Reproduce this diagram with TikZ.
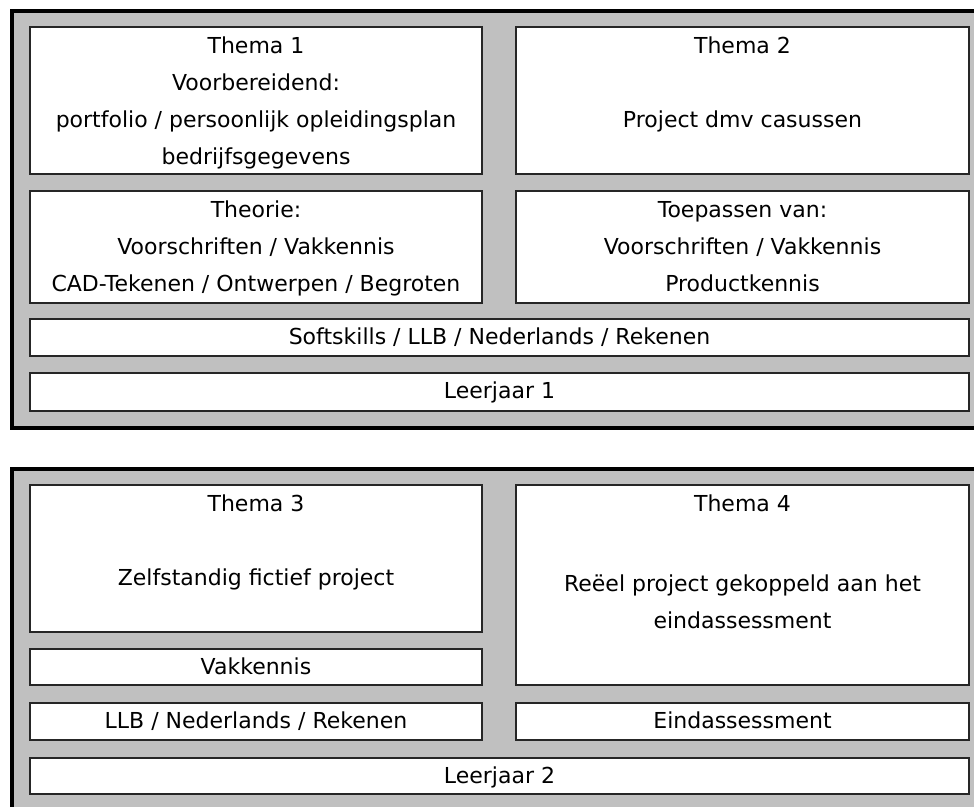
\documentclass[tikz,border=0pt]{standalone}
\usepackage{fontspec}
\setmainfont{DejaVu Sans}
\usetikzlibrary{positioning}

\definecolor{kadergrijs}{RGB}{192,192,192}

\begin{document}
\begin{tikzpicture}[x=1pt,y=-1pt]
		\tikzstyle{kader}=[draw=black, line width=4pt, fill=kadergrijs];
		\tikzstyle{vak}=[draw=black!85, line width=1.4pt, fill=white, inner sep=0pt];
		\tikzstyle{tekst}=[align=center, inner sep=0pt, font=\fontsize{22}{37}\selectfont];
		\useasboundingbox (0,0) rectangle (974,806);
		\clip (0,0) rectangle (974,806);
		% leerjaar 1
		\path[kader] (11.5,11) rectangle (1000,427.5);
		\path (256,100.5)   node[vak, minimum width=452, minimum height=147] (thema1) {};
		\path (742.5,100.5) node[vak, minimum width=453, minimum height=147] (thema2) {};
		\path (256,247)     node[vak, minimum width=452, minimum height=112] (theorie) {};
		\path (742.5,247)   node[vak, minimum width=453, minimum height=112] (toepassen) {};
		\path (499.5,337.5) node[vak, minimum width=939, minimum height=37] (softskills) {};
		\path (499.5,392)   node[vak, minimum width=939, minimum height=38] (leerjaar1) {};
		\node[tekst, below=10.5pt of thema1.north] (thema1tekst)
			{Thema 1\\ Voorbereidend:\\ portfolio / persoonlijk opleidingsplan\\ bedrijfsgegevens};
		\node[tekst, below=10.5pt of thema2.north] (thema2tekst)
			{Thema 2\\[37pt] Project dmv casussen};
		\node[tekst, below=10.5pt of theorie.north] (theorietekst)
			{Theorie:\\ Voorschriften / Vakkennis\\ CAD-Tekenen / Ontwerpen / Begroten};
		\node[tekst, below=10.5pt of toepassen.north] (toepassentekst)
			{Toepassen van:\\ Voorschriften / Vakkennis\\ Productkennis};
		\node[tekst, below=9.5pt of softskills.north] (softskillstekst)
			{Softskills / LLB / Nederlands / Rekenen};
		\node[tekst, below=9.5pt of leerjaar1.north] (leerjaar1tekst) {Leerjaar 1};
		% leerjaar 2
		\path[kader] (11.5,469) rectangle (1000,900);
		\path (256,558.5)   node[vak, minimum width=452, minimum height=147] (thema3) {};
		\path (742.5,585)   node[vak, minimum width=453, minimum height=200] (thema4) {};
		\path (256,667)     node[vak, minimum width=452, minimum height=36] (vakkennis) {};
		\path (256,721.5)   node[vak, minimum width=452, minimum height=37] (llb) {};
		\path (742.5,721.5) node[vak, minimum width=453, minimum height=37] (eind) {};
		\path (499.5,776)   node[vak, minimum width=939, minimum height=36] (leerjaar2) {};
		\node[tekst, below=10.5pt of thema3.north] (thema3tekst)
			{Thema 3\\[37pt] Zelfstandig fictief project};
		\node[tekst, below=10.5pt of thema4.north] (thema4tekst)
			{Thema 4\\[43pt] Reëel project gekoppeld aan het\\ eindassessment};
		\node[tekst, below=9pt of vakkennis.north] (vakkennistekst) {Vakkennis};
		\node[tekst, below=9.5pt of llb.north] (llbtekst) {LLB / Nederlands / Rekenen};
		\node[tekst, below=9.5pt of eind.north] (eindtekst) {Eindassessment};
		\node[tekst, below=9pt of leerjaar2.north] (leerjaar2tekst) {Leerjaar 2};
\end{tikzpicture}
\end{document}
